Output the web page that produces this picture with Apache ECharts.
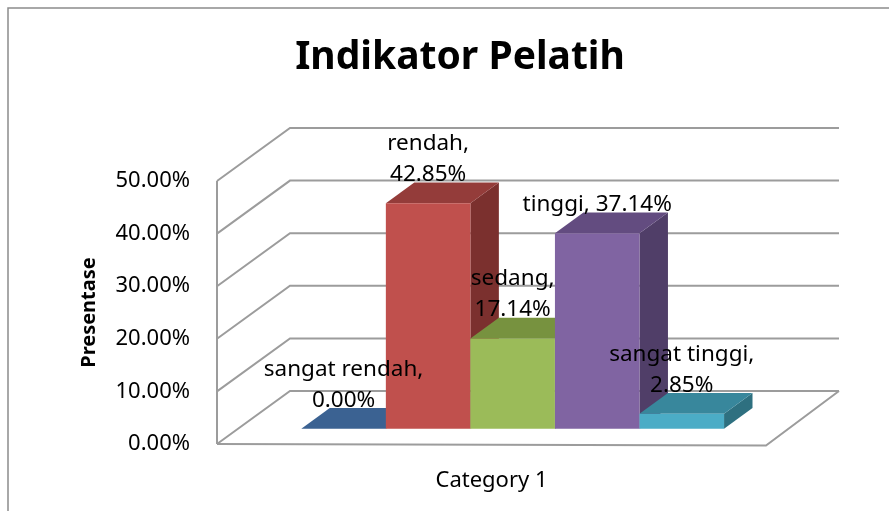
<!DOCTYPE html>
<html>
<head>
<meta charset="utf-8">
<script src="https://cdn.jsdelivr.net/npm/echarts@6/dist/echarts.min.js"></script>
<style>
  html, body { margin: 0; padding: 0; background: #fff; }
  #chart { width: 889px; height: 511px; }
</style>
</head>
<body>
<div id="chart"></div>
<script>
// data
const categories = ['sangat rendah', 'rendah', 'sedang', 'tinggi', 'sangat tinggi'];
const values = [0.0, 0.4285, 0.1714, 0.3714, 0.0285];
const labelSep = [',\n', ',\n', ',\n', ', ', ',\n'];
const axisCategory = ['Category 1'];
const tickValues = [0, 0.1, 0.2, 0.3, 0.4, 0.5];

// warna tiap batang: depan, atas, samping
const frontColors = ['#4F81BD', '#C0504D', '#9BBB59', '#8064A2', '#4BACC6'];
const topColors = ['#3B6292', '#943C3A', '#77923F', '#634C80', '#38879C'];
const sideColors = ['#31527A', '#7B302E', '#637A34', '#503E68', '#2E7080'];

const chart = echarts.init(document.getElementById('chart'));

// offset kedalaman penuh (dinding belakang)
const DX = 73, DY = -53;
const barFrontDepth = 0.29;
const barDepth = 0.39;
const groupFrac = 0.77;
const FONT = 'Noto Sans';

function pct(v) {
  return (v * 100).toFixed(2) + '%';
}

const option = {
  animation: false,
  title: {
    text: 'Indikator Pelatih',
    left: 455,
    top: 33,
    textAlign: 'center',
    textStyle: { fontFamily: FONT, fontSize: 39, fontWeight: 'bold', color: '#000' },
  },
  graphic: [
    {
      type: 'rect',
      shape: { x: 8, y: 8, width: 920, height: 540 },
      style: { fill: 'none', stroke: '#8c8c8c', lineWidth: 1.5 },
      silent: true,
    },
  ],
  grid: { left: 217, right: 123, top: 181, bottom: 67 },
  xAxis: {
    type: 'category',
    data: axisCategory,
    axisLine: { show: false },
    axisTick: { show: false },
    axisLabel: { margin: 26, fontFamily: FONT, fontSize: 22, color: '#000' },
  },
  yAxis: {
    type: 'value',
    min: 0,
    max: 0.5,
    interval: 0.1,
    name: 'Presentase',
    nameLocation: 'middle',
    nameGap: 118,
    nameTextStyle: { fontFamily: FONT, fontSize: 20, fontWeight: 'bold', color: '#000' },
    axisLine: { show: false },
    axisTick: { show: false },
    splitLine: { show: false },
    axisLabel: {
      margin: 27,
      fontFamily: FONT,
      fontSize: 22,
      color: '#000',
      formatter: (v) => pct(v),
    },
  },
  series: [
    {
      // dinding dan garis grid 3D
      type: 'custom',
      z: 1,
      data: tickValues.map((v) => [0, v]),
      renderItem: function (params, api) {
        const cs = params.coordSys;
        const y = api.coord([0, api.value(1)])[1];
        const x0 = cs.x;
        const x1 = cs.x + cs.width;
        const lineStyle = { stroke: '#9c9c9c', lineWidth: 2, fill: 'none' };
        const children = [
          {
            type: 'polyline',
            shape: { points: [[x0, y], [x0 + DX, y + DY], [x1 + DX, y + DY]] },
            style: lineStyle,
          },
        ];
        if (api.value(1) === 0) {
          const yTop = api.coord([0, tickValues[tickValues.length - 1]])[1];
          children.push({
            type: 'polyline',
            shape: { points: [[x0, y], [x1, y + 1.5], [x1 + DX, y + DY]] },
            style: lineStyle,
          });
          children.push({
            type: 'line',
            shape: { x1: x0, y1: y, x2: x0, y2: yTop },
            style: lineStyle,
          });
        }
        return { type: 'group', children: children };
      },
    },
    {
      // batang 3D
      type: 'custom',
      z: 2,
      data: values.map((v, i) => [0, v, i]),
      renderItem: function (params, api) {
        const i = api.value(2);
        const v = api.value(1);
        const center = api.coord([0, 0]);
        const bandW = api.size([1, 0])[0];
        const barW = (bandW * groupFrac) / categories.length;
        const fx = center[0] + barFrontDepth * DX - (categories.length / 2) * barW + i * barW;
        const fy0 = center[1] + barFrontDepth * DY;
        const fy1 = api.coord([0, v])[1] + barFrontDepth * DY;
        const bx = barDepth * DX, by = barDepth * DY;
        const x2 = fx + barW;
        const children = [];
        // samping
        children.push({
          type: 'polygon',
          shape: { points: [[x2, fy1], [x2 + bx, fy1 + by], [x2 + bx, fy0 + by], [x2, fy0]] },
          style: { fill: sideColors[i] },
        });
        // atas
        children.push({
          type: 'polygon',
          shape: { points: [[fx, fy1], [fx + bx, fy1 + by], [x2 + bx, fy1 + by], [x2, fy1]] },
          style: { fill: topColors[i] },
        });
        // depan
        if (fy0 - fy1 > 0.5) {
          children.push({
            type: 'rect',
            shape: { x: fx, y: fy1, width: barW, height: fy0 - fy1 },
            style: { fill: frontColors[i] },
          });
        }
        const text = categories[i] + labelSep[i] + pct(v);
        const lines = text.split('\n').length;
        children.push({
          type: 'text',
          z2: 10,
          style: {
            text: text,
            x: fx + barW / 2,
            y: fy1 - (13 + 15.5 * lines),
            align: 'center',
            verticalAlign: 'middle',
            fontFamily: FONT,
            fontSize: 22.5,
            lineHeight: 31,
            fill: '#000',
          },
        });
        return { type: 'group', children: children };
      },
    },
  ],
};

chart.setOption(option);
</script>
</body>
</html>
